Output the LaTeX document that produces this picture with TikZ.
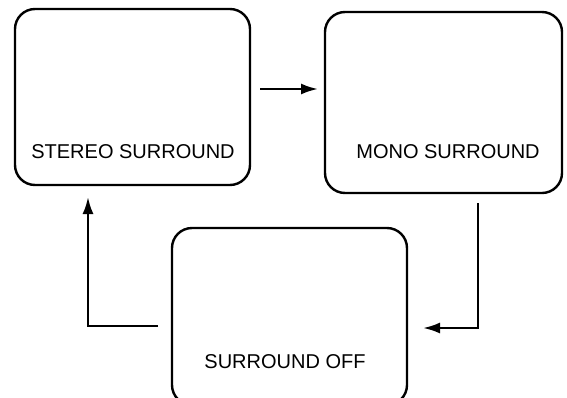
\documentclass[tikz,border=0pt]{standalone}
\usepackage{fontspec}
\setmainfont{Liberation Sans}
\usetikzlibrary{arrows.meta}
\begin{document}
\begin{tikzpicture}[x=1pt,y=-1pt,
  modebox/.style={draw, line width=2.4pt, rounded corners=20pt},
  lbl/.style={font=\fontsize{20}{24}\selectfont, inner sep=0pt},
  conn/.style={line width=2.4pt, -{Latex[length=17pt,width=11pt]}}]
\useasboundingbox (0,0) rectangle (567,397);
\draw[modebox] (15,9) rectangle (250,185);
\draw[modebox] (325,12) rectangle (562,193);
\draw[modebox] (172,228) rectangle (407,405);
\node[lbl] (t1) at (133,152) {STEREO SURROUND};
\node[lbl] (t2) at (448,152) {MONO SURROUND};
\node[lbl] (t3) at (285,362) {SURROUND OFF};
\coordinate (a1s) at (260,89);
\coordinate (a1e) at (318,89);
\draw[conn] (a1s) -- (a1e);
\coordinate (a2s) at (478,203);
\coordinate (a2m) at (478,328);
\coordinate (a2e) at (423,328);
\draw[conn] (a2s) -- (a2m) -- (a2e);
\coordinate (a3s) at (158,326);
\coordinate (a3m) at (88,326);
\coordinate (a3e) at (88,197);
\draw[conn] (a3s) -- (a3m) -- (a3e);
\end{tikzpicture}
\end{document}
